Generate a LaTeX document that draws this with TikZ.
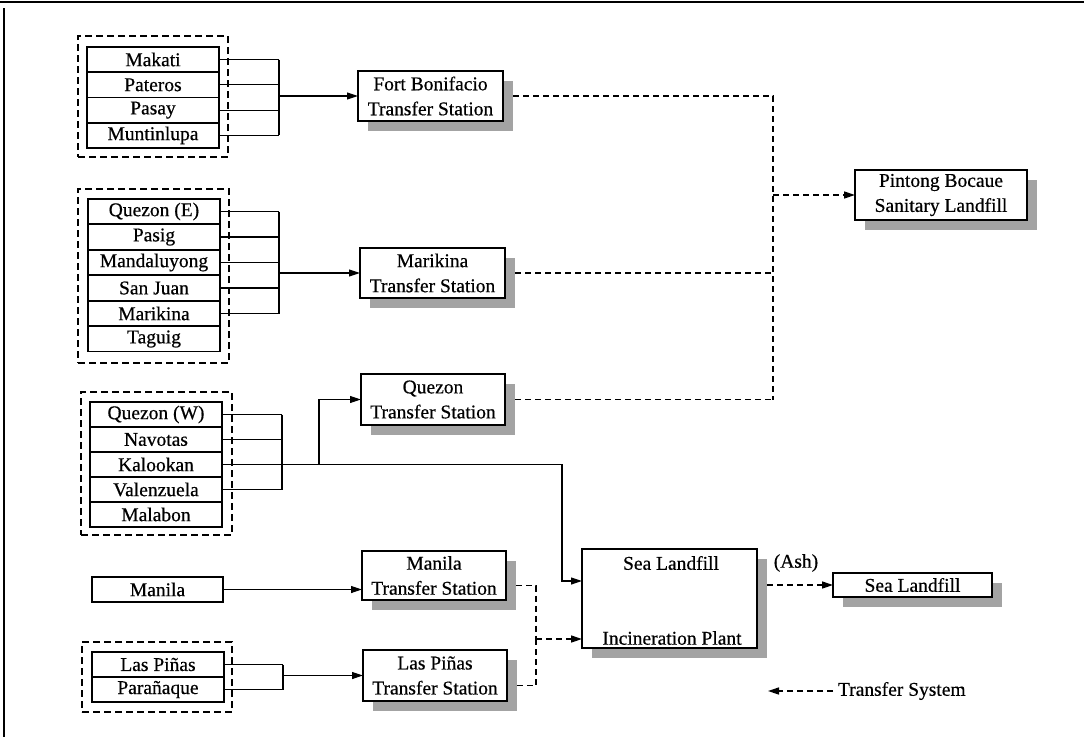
\documentclass[tikz,border=0pt]{standalone}
\usepackage{fontspec}
\setmainfont{Liberation Serif}
\newfontfamily\heavyserif{Liberation Serif}[FakeBold=0.5]
\usetikzlibrary{arrows.meta,shadows,calc}
\newcommand\lblfont{\heavyserif\fontsize{19.5}{25}\selectfont}
\begin{document}
\begin{tikzpicture}[x=1pt,y=-1pt,
  every node/.style={font=\lblfont, inner sep=0pt, outer sep=0pt},
  citybox/.style={draw, line width=1.6pt, fill=white, minimum height=25pt,
    anchor=north west},
  groupbox/.style={draw, line width=1.4pt, dash pattern=on 7pt off 4pt,
    anchor=north west},
  station/.style={draw, line width=1.6pt, fill=white, align=center,
    anchor=north west,
    drop shadow={shadow xshift=10pt, shadow yshift=-10pt, fill=black!36, opacity=1}},
  conn/.style={line width=1.1pt},
  tconn/.style={line width=1.4pt, dash pattern=on 6pt off 4pt},
  arr/.style={-{Triangle[length=11pt,width=7pt]}}
]
\useasboundingbox (0,0) rectangle (1084,737);

% page frame
\draw[line width=1.4pt] (0,2) -- (1084,2);
\draw[line width=1.4pt] (4,8) -- (4,737);

% ---------- southern cities -> Fort Bonifacio
\node[groupbox, minimum width=150pt, minimum height=121pt] (g1) at (78,36) {};
\node[citybox, minimum width=132pt] (makati)     at (87,47)    {Makati};
\node[citybox, minimum width=132pt] (pateros)    at (87,72.3)  {Pateros};
\node[citybox, minimum width=132pt] (pasay)      at (87,97.6)  {Pasay};
\node[citybox, minimum width=132pt] (muntinlupa) at (87,122.9) {Muntinlupa};

% ---------- eastern cities -> Marikina
\node[groupbox, minimum width=151pt, minimum height=174pt] (g2) at (78,189) {};
\node[citybox, minimum width=132pt] (quezonE)  at (88,199)   {Quezon (E)};
\node[citybox, minimum width=132pt] (pasig)    at (88,224.5) {Pasig};
\node[citybox, minimum width=132pt] (mandal)   at (88,250)   {Mandaluyong};
\node[citybox, minimum width=132pt] (sanjuan)  at (88,275.5) {San Juan};
\node[citybox, minimum width=132pt] (marikina) at (88,301)   {Marikina};
\node[citybox, minimum width=132pt] (taguig)   at (88,326.5) {Taguig};

% ---------- northern cities -> Quezon / Incineration
\node[groupbox, minimum width=151pt, minimum height=143pt] (g3) at (81,392) {};
\node[citybox, minimum width=132pt] (quezonW) at (90,402) {Quezon (W)};
\node[citybox, minimum width=132pt] (navotas) at (90,427) {Navotas};
\node[citybox, minimum width=132pt] (kalookan) at (90,452) {Kalookan};
\node[citybox, minimum width=132pt] (valenz)  at (90,477) {Valenzuela};
\node[citybox, minimum width=132pt] (malabon) at (90,502) {Malabon};

% ---------- Manila
\node[citybox, minimum width=131pt] (manila) at (92,577) {Manila};

% ---------- Las Pinas / Paranaque
\node[groupbox, minimum width=150pt, minimum height=70pt] (g4) at (82,642) {};
\node[citybox, minimum width=132pt] (laspinas) at (92,652) {Las Piñas};
\node[citybox, minimum width=132pt] (paranaque) at (92,677) {Parañaque};

% ---------- transfer stations
\node[station, minimum width=145pt, minimum height=50pt] (fortTS) at (358,71)
  {Fort Bonifacio\\Transfer Station};
\node[station, minimum width=145pt, minimum height=50pt] (marikinaTS) at (360,248)
  {Marikina\\Transfer Station};
\node[station, minimum width=144pt, minimum height=51pt] (quezonTS) at (361,374)
  {Quezon\\Transfer Station};
\node[station, minimum width=144pt, minimum height=49pt] (manilaTS) at (362,551)
  {Manila\\Transfer Station};
\node[station, minimum width=144pt, minimum height=51pt] (lpTS) at (363,650)
  {Las Piñas\\Transfer Station};

% ---------- destinations
\node[station, minimum width=172pt, minimum height=50pt] (pintong) at (855,170)
  {Pintong Bocaue\\Sanitary Landfill};
\node[station, minimum width=175pt, minimum height=99pt] (plant) at (582,549) {};
\node (plantTop) at (671,563) {Sea Landfill};
\node (plantBot) at (672,638) {Incineration Plant};
\node[station, minimum width=159pt, minimum height=24pt] (sealf) at (833,573)
  {Sea Landfill};
\node (ash) at (796,563) {(Ash)};

% ---------- collection connectors
\coordinate (bus1) at (279,0);
\foreach \n in {makati,pateros,pasay,muntinlupa}
  \draw[conn] (\n.east) -- (\n.east -| bus1);
\draw[conn] (makati.east -| bus1) -- (muntinlupa.east -| bus1);
\draw[conn,arr] (bus1 |- fortTS.west) -- (fortTS.west);

\coordinate (bus2) at (279,0);
\foreach \n in {quezonE,pasig,mandal,sanjuan,marikina}
  \draw[conn] (\n.east) -- (\n.east -| bus2);
\draw[conn] (quezonE.east -| bus2) -- (marikina.east -| bus2);
\draw[conn,arr] (bus2 |- marikinaTS.west) -- (marikinaTS.west);

\coordinate (bus3) at (282,0);
\foreach \n in {quezonW,navotas,valenz}
  \draw[conn] (\n.east) -- (\n.east -| bus3);
\draw[conn] (quezonW.east -| bus3) -- (valenz.east -| bus3);
\coordinate (drop) at (562,581);
\draw[conn,arr] (kalookan.east) -| (drop) -- (drop -| plant.west);
\coordinate (qbranch) at (319,0);
\draw[conn,arr] (kalookan.east -| qbranch) |- (quezonTS.west);

\draw[conn,arr] (manila.east) -- (manila.east -| manilaTS.west);

\coordinate (bus4) at (283,0);
\foreach \n in {laspinas,paranaque}
  \draw[conn] (\n.east) -- (\n.east -| bus4);
\draw[conn] (laspinas.east -| bus4) -- (paranaque.east -| bus4);
\draw[conn,arr] (bus4 |- lpTS.west) -- (lpTS.west);

% ---------- transfer system links
\coordinate (tbus) at (773,0);
\draw[tconn] ([xshift=10pt]fortTS.east) -- (fortTS.east -| tbus) -- (quezonTS.east -| tbus);
\draw[tconn] ([xshift=10pt]marikinaTS.east) -- (marikinaTS.east -| tbus);
\draw[tconn] ([xshift=10pt]quezonTS.east) -- (quezonTS.east -| tbus);
\draw[tconn,arr] (tbus |- pintong.west) -- (pintong.west);

\coordinate (sbus) at (536,639);
\draw[tconn] ($(manilaTS.east)+(10,10)$) -| (sbus);
\draw[tconn] ($(lpTS.east)+(10,10)$) -| (sbus);
\draw[tconn,arr] (sbus) -- (sbus -| plant.west);

\draw[tconn,arr] ([xshift=10pt]plant.east |- sealf.west) -- (sealf.west);

% ---------- legend
\node[anchor=west] (legend) at (838,691) {Transfer System};
\coordinate (legtip) at (768,691);
\draw[tconn,arr] ([xshift=-5pt]legend.west) -- (legtip);
\end{tikzpicture}
\end{document}
